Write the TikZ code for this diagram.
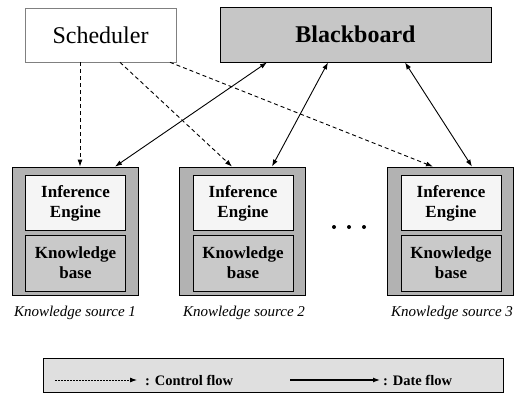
\documentclass[tikz,border=0pt]{standalone}
\usepackage{fontspec}
\setmainfont{Liberation Serif}
\usetikzlibrary{arrows.meta}
\begin{document}
\begin{tikzpicture}[x=1pt,y=-1pt,
  box/.style={draw=black,line width=0.8pt,inner sep=0pt,align=center},
  ksbox/.style={box,fill=gray!60,minimum width=126pt,minimum height=128pt},
  iebox/.style={box,fill=gray!8,minimum width=100pt,minimum height=55pt,font=\fontsize{17}{20}\selectfont\bfseries},
  kbbox/.style={box,fill=gray!42,minimum width=100pt,minimum height=56pt,font=\fontsize{17}{20}\selectfont\bfseries},
  kslabel/.style={font=\fontsize{15}{17}\selectfont\itshape},
  ctrl/.style={-{Latex[length=7pt,width=5pt]},line width=0.9pt,dash pattern=on 4pt off 3pt},
  data/.style={{Latex[length=7pt,width=5pt]}-{Latex[length=7pt,width=5pt]},line width=0.9pt},
  legtext/.style={font=\fontsize{14.5}{16}\selectfont\bfseries,anchor=west,inner sep=0pt}]
\useasboundingbox (0,0) rectangle (523,399);
% top boxes
\node[box,draw=gray,line width=0.6pt,fill=white,minimum width=151pt,minimum height=54pt,font=\fontsize{24}{26}\selectfont] (sch) at (100.5,35) {Scheduler};
\node[box,fill=gray!45,minimum width=271pt,minimum height=55pt,font=\fontsize{24}{26}\selectfont\bfseries] (bb) at (355.5,34.5) {Blackboard};
% knowledge sources
\node[ksbox] (ks1) at (75,231) {};
\node[ksbox] (ks2) at (242.5,231) {};
\node[ksbox] (ks3) at (450.5,231) {};
\node[iebox] (ie1) at (75.5,203) {Inference\\Engine};
\node[kbbox] (kb1) at (75.5,263) {Knowledge\\base};
\node[iebox] (ie2) at (243,203) {Inference\\Engine};
\node[kbbox] (kb2) at (243,263) {Knowledge\\base};
\node[iebox] (ie3) at (451,203) {Inference\\Engine};
\node[kbbox] (kb3) at (451,263) {Knowledge\\base};
\node[kslabel] (l1) at (75,313) {Knowledge source 1};
\node[kslabel] (l2) at (244,313) {Knowledge source 2};
\node[kslabel] (l3) at (452,313) {Knowledge source 3};
% dots
\fill (334,227) circle (2pt) (349,227) circle (2pt) (364,227) circle (2pt);
% control flow
\draw[ctrl] ([xshift=-20.5pt]sch.south) -- ([xshift=5pt]ks1.north);
\draw[ctrl] ([xshift=19.5pt]sch.south) -- ([xshift=-10.5pt]ks2.north);
\draw[ctrl] ([xshift=69.5pt]sch.south) -- ([xshift=-17.5pt]ks3.north);
% data flow
\draw[data] ([xshift=-88.5pt]bb.south) -- ([xshift=40pt]ks1.north);
\draw[data] ([xshift=-27.5pt]bb.south) -- ([xshift=29.5pt]ks2.north);
\draw[data] ([xshift=49.5pt]bb.south) -- ([xshift=21.5pt]ks3.north);
% legend
\node[draw=black,line width=0.8pt,fill=gray!25,minimum width=460pt,minimum height=34pt,inner sep=0pt] (leg) at (273,375) {};
\coordinate (c1) at (55,380);
\coordinate (c2) at (137,380);
\coordinate (d1) at (290,380);
\coordinate (d2) at (380,380);
\draw[ctrl,dash pattern=on 2pt off 1pt] (c1) -- (c2);
\draw[-{Latex[length=7pt,width=5pt]},line width=1.2pt] (d1) -- (d2);
\node[legtext] (t1) at (145,380) {: Control flow};
\node[legtext] (t2) at (383,380) {: Date flow};
\end{tikzpicture}
\end{document}
